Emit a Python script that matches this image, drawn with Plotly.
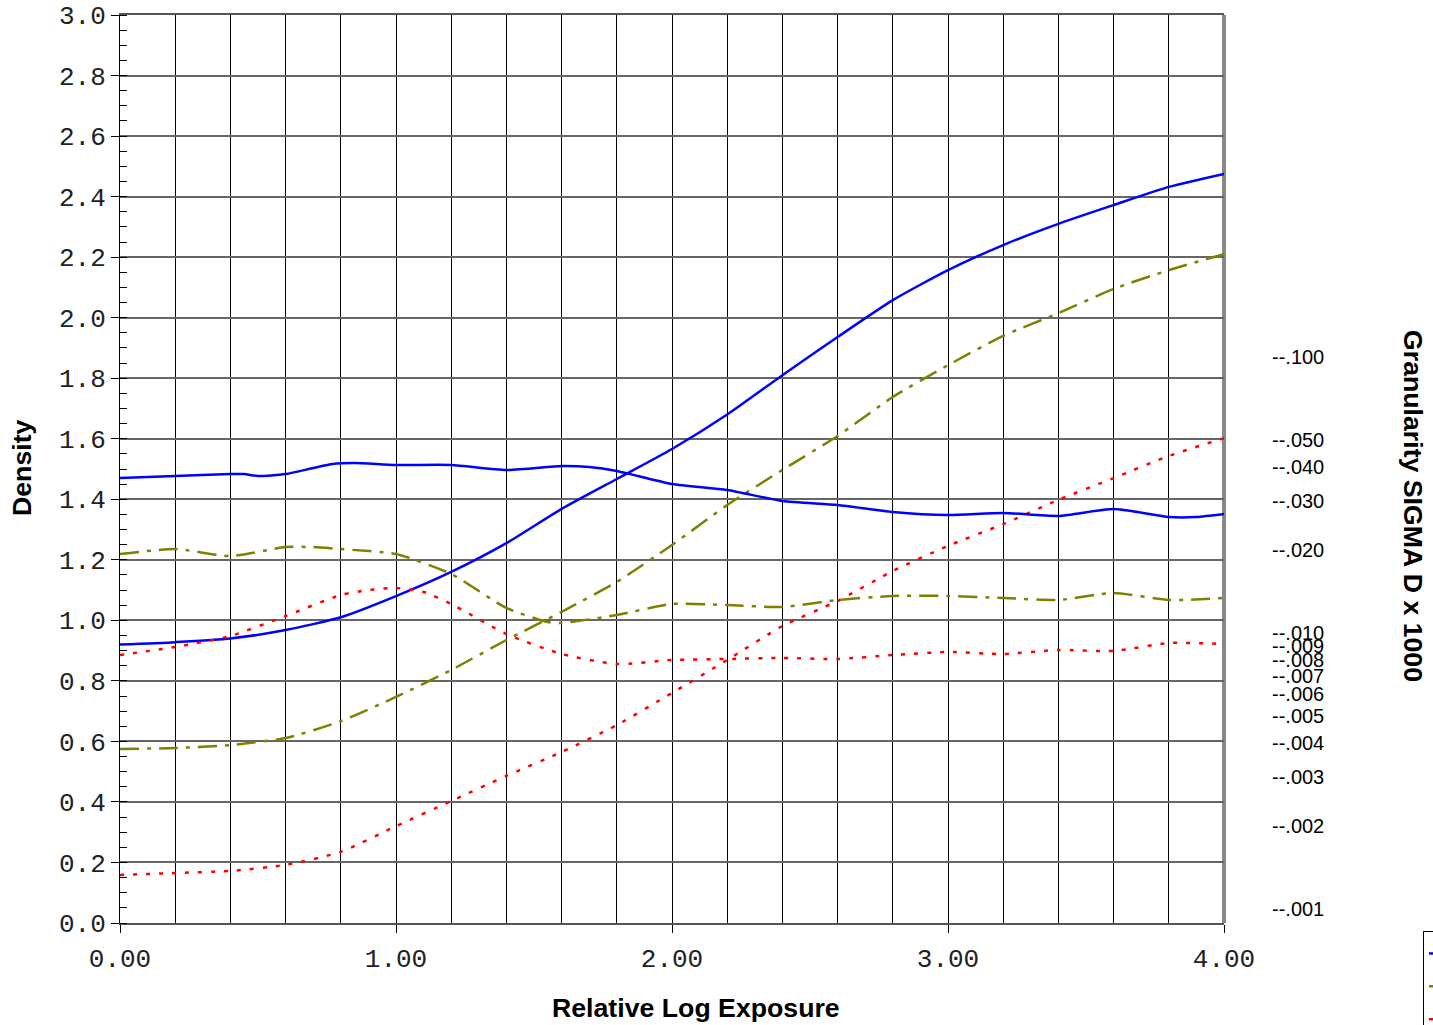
import plotly.graph_objects as go

# ---- Density curves (left axis) ----
dens_x = [0.0, 0.2, 0.4, 0.6, 0.8, 1.0, 1.2, 1.4, 1.6, 1.8, 2.0, 2.2, 2.4, 2.6, 2.8, 3.0, 3.2, 3.4, 3.6, 3.8, 4.0]
blue_density = [0.92, 0.928, 0.94, 0.968, 1.01, 1.08, 1.16, 1.255, 1.368, 1.467, 1.566, 1.68, 1.81, 1.936, 2.058,
                2.157, 2.24, 2.31, 2.372, 2.432, 2.475]
green_density = [0.575, 0.578, 0.588, 0.611, 0.667, 0.747, 0.836, 0.935, 1.028, 1.127, 1.249, 1.381, 1.497, 1.609,
                 1.738, 1.843, 1.94, 2.015, 2.095, 2.157, 2.21]
red_density = [0.159, 0.165, 0.172, 0.192, 0.235, 0.32, 0.403, 0.486, 0.565, 0.654, 0.76, 0.869, 0.981, 1.064,
               1.163, 1.246, 1.318, 1.398, 1.47, 1.543, 1.602]

# ---- Granularity curves (right log axis, sigma D) ----
blue_gran_x = [0.0, 0.2, 0.4, 0.45, 0.5, 0.6, 0.7, 0.77, 0.85, 1.0, 1.2, 1.4, 1.6, 1.7, 1.8, 2.0, 2.2, 2.4, 2.6,
               2.8, 3.0, 3.2, 3.4, 3.6, 3.8, 3.9, 4.0]
blue_gran = [0.03643, 0.03704, 0.03767, 0.03767, 0.03704, 0.03767, 0.03960, 0.04095, 0.04129, 0.04061, 0.04061,
             0.03895, 0.04027, 0.03993, 0.03863, 0.03466, 0.03297, 0.03008, 0.02910, 0.02745, 0.02677, 0.02722,
             0.02655, 0.02814, 0.02633, 0.02633, 0.02700]
green_gran_x = [0.0, 0.2, 0.4, 0.6, 0.7, 0.8, 1.0, 1.2, 1.4, 1.55, 1.6, 1.8, 2.0, 2.2, 2.4, 2.6, 2.8, 3.0, 3.2,
                3.4, 3.6, 3.8, 4.0]
green_gran = [0.01932, 0.02014, 0.01901, 0.02048, 0.02048, 0.02014, 0.01932, 0.01636, 0.01232, 0.01096, 0.01087,
              0.01162, 0.01274, 0.01263, 0.01242, 0.01317, 0.01362, 0.01362, 0.01339, 0.01317, 0.01396, 0.01317,
              0.01339]
red_gran_x = [0.0, 0.2, 0.4, 0.6, 0.8, 0.9, 1.0, 1.1, 1.2, 1.4, 1.6, 1.8, 2.0, 2.2, 2.4, 2.6, 2.8, 3.0, 3.2, 3.4,
              3.6, 3.8, 4.0]
red_gran = [0.008325, 0.008898, 0.009752, 0.01152, 0.01373, 0.01431, 0.01455, 0.01408, 0.01274, 0.009917,
            0.008394, 0.007722, 0.007984, 0.008051, 0.008118, 0.008051, 0.008325, 0.008536, 0.008394, 0.008679,
            0.008607, 0.009200, 0.009122]

gran_ticks = [0.1, 0.05, 0.04, 0.03, 0.02, 0.01, 0.009, 0.008, 0.007, 0.006, 0.005, 0.004, 0.003, 0.002, 0.001]
gran_labels = ["--.100", "--.050", "--.040", "--.030", "--.020", "--.010", "--.009", "--.008", "--.007",
               "--.006", "--.005", "--.004", "--.003", "--.002", "--.001"]

BLUE = "#0000ff"
OLIVE = "#808000"
RED = "#ff0000"
DASHDOT = "19px,8px,4px,8px"
DOT = "4px,9px"
LW = 2.5

fig = go.Figure()
fig.add_trace(go.Scatter(x=dens_x, y=blue_density, mode="lines", name="Blue",
                         line=dict(color=BLUE, width=LW, shape="spline", smoothing=0.6)))
fig.add_trace(go.Scatter(x=dens_x, y=green_density, mode="lines", name="Green",
                         line=dict(color=OLIVE, width=LW, dash=DASHDOT, shape="spline", smoothing=0.6)))
fig.add_trace(go.Scatter(x=dens_x, y=red_density, mode="lines", name="Red",
                         line=dict(color=RED, width=LW, dash=DOT, shape="spline", smoothing=0.6)))
fig.add_trace(go.Scatter(x=blue_gran_x, y=blue_gran, yaxis="y2", mode="lines", showlegend=False,
                         line=dict(color=BLUE, width=LW, shape="spline", smoothing=0.6)))
fig.add_trace(go.Scatter(x=green_gran_x, y=green_gran, yaxis="y2", mode="lines", showlegend=False,
                         line=dict(color=OLIVE, width=LW, dash=DASHDOT, shape="spline", smoothing=0.6)))
fig.add_trace(go.Scatter(x=red_gran_x, y=red_gran, yaxis="y2", mode="lines", showlegend=False,
                         line=dict(color=RED, width=LW, dash=DOT, shape="spline", smoothing=0.6)))

W, H = 1433, 1025
ML, MR, MT, MB = 120, 100, 15, 102
PW = W - ML - MR
PH = H - MT - MB
XEND = (1224 - ML) / PW


def px_x(p):
    return (p - ML) / PW


def px_y(p):
    return (H - MB - p) / PH


mono = dict(family="Liberation Mono, Courier New, monospace", size=26, color="#222222")
sans_bold = dict(family="Liberation Sans, Arial, sans-serif", size=26.7, color="#000000")

fig.update_layout(
    width=W, height=H,
    margin=dict(l=ML, r=MR, t=MT, b=MB, autoexpand=False),
    paper_bgcolor="white", plot_bgcolor="white",
    showlegend=True,
    legend=dict(x=px_x(1423), y=px_y(931), xanchor="left", yanchor="top",
                bordercolor="#000000", borderwidth=1, bgcolor="white",
                font=dict(family="Liberation Sans, Arial, sans-serif", size=23, color="black")),
    xaxis=dict(domain=[0, XEND], range=[0, 4], dtick=1, tick0=0, tickformat=".2f", automargin=False,
               ticks="outside", ticklen=8, tickcolor="#000000", tickfont=mono, ticklabelstandoff=3,
               showgrid=True, gridcolor="#000000", gridwidth=1,
               minor=dict(dtick=0.2, showgrid=True, gridcolor="#000000", gridwidth=1, ticks=""),
               showline=True, linecolor="#555555", linewidth=2, mirror=True, zeroline=False),
    yaxis=dict(range=[0, 3], dtick=0.2, tick0=0, tickformat=".1f", automargin=False,
               ticks="outside", ticklen=8, tickcolor="#000000", tickfont=mono,
               showgrid=True, gridcolor="#666666", gridwidth=1.5,
               minor=dict(dtick=0.05, ticks="inside", ticklen=7, tickcolor="#000000", showgrid=False),
               showline=True, linecolor="#000000", linewidth=1, zeroline=False),
    yaxis3=dict(range=[0, 3], overlaying="y", anchor="x", side="left", dtick=0.05, tick0=0, automargin=False,
                ticks="outside", ticklen=7, tickcolor="#000000", showticklabels=False,
                showgrid=False, showline=False, zeroline=False),
    yaxis2=dict(type="log", range=[-3.0507, 0.2391], overlaying="y", anchor="free", automargin=False,
                position=px_x(1271), side="right", tickmode="array", tickvals=gran_ticks,
                ticktext=gran_labels, ticks="", showgrid=False, showline=False, zeroline=False,
                tickfont=dict(family="Liberation Sans, Arial, sans-serif", size=20, color="#000000")),
    shapes=[dict(type="line", xref="x domain", yref="y domain", x0=1, x1=1, y0=0, y1=1,
                 line=dict(color="#888888", width=4), layer="below")],
    annotations=[
        dict(text="<b>Density</b>", xref="paper", yref="paper", x=px_x(22), y=px_y(468),
             xanchor="center", yanchor="middle", textangle=-90, showarrow=False, font=sans_bold),
        dict(text="<b>Relative Log Exposure</b>", xref="paper", yref="paper", x=px_x(696), y=px_y(1008),
             xanchor="center", yanchor="middle", showarrow=False, font=sans_bold),
        dict(text="<b>Granularity SIGMA D x 1000</b>", xref="paper", yref="paper", x=px_x(1413), y=px_y(506),
             xanchor="center", yanchor="middle", textangle=90, showarrow=False, font=sans_bold),
    ],
)

fig.write_html("out.html", config={"displayModeBar": False},
               post_script="document.body.style.margin='0';")
